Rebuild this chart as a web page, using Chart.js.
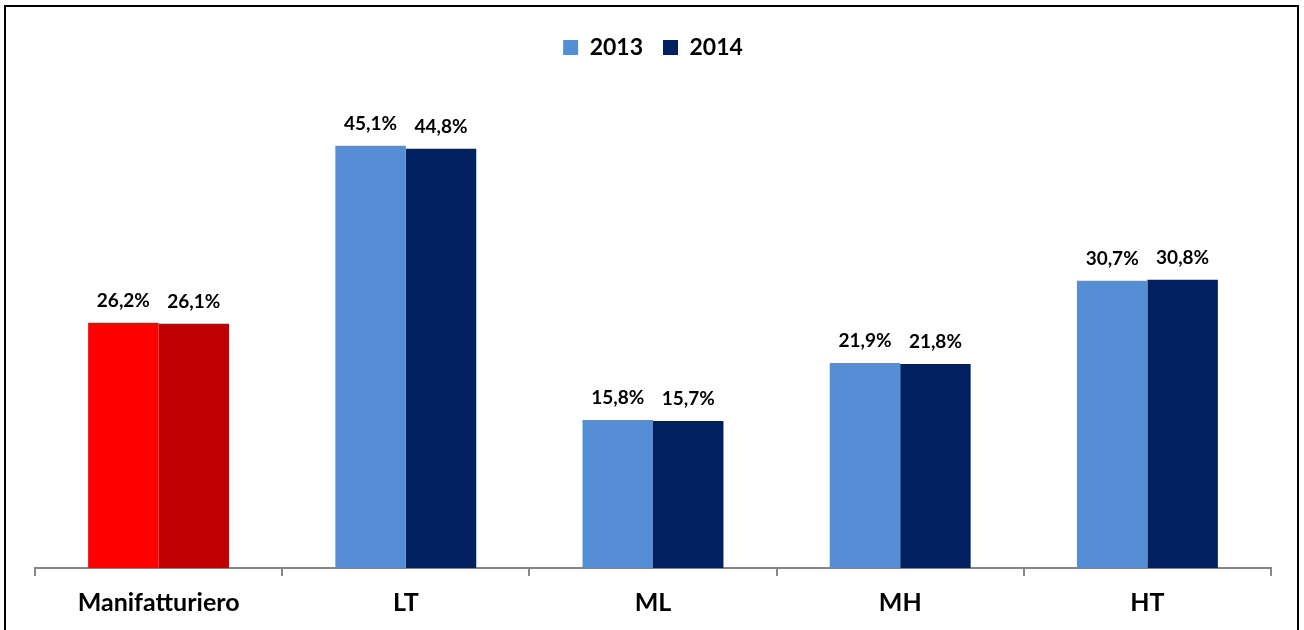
<!DOCTYPE html>
<html>
<head>
<meta charset="utf-8">
<script src="https://cdn.jsdelivr.net/npm/chart.js@4"></script>
<style>
  html, body { margin: 0; padding: 0; background: #fff; }
  #wrap { position: relative; width: 1304px; height: 630px; overflow: hidden; }
  #frame { position: absolute; left: 4px; top: 5px; width: 1295px; height: 640px; border: 2px solid #000; box-sizing: border-box; pointer-events: none; }
  canvas { position: absolute; left: 0; top: 0; }
</style>
</head>
<body>
<div id="wrap">
  <canvas id="chart" width="1304" height="630"></canvas>
  <div id="frame"></div>
</div>
<script>
// ---------- Data ----------
const categories = ["Manifatturiero", "LT", "ML", "MH", "HT"];
const years = ["2013", "2014"];
const values2013 = [26.2, 45.1, 15.8, 21.9, 30.7];
const values2014 = [26.1, 44.8, 15.7, 21.8, 30.8];

// ---------- Colors ----------
const COLOR_2013 = "#558ED5";
const COLOR_2014 = "#002060";
const COLOR_MANIF_2013 = "#FF0000";
const COLOR_MANIF_2014 = "#C00000";

const FONT = "Lato, 'Open Sans', sans-serif";

function colorsFor(base, first) {
  return categories.map((c, i) => (i === 0 ? first : base));
}

function formatPct(v) {
  return v.toFixed(1).replace(".", ",") + "%";
}

// draws the value labels above each bar
const valueLabels = {
  id: "valueLabels",
  afterDatasetsDraw(chart) {
    const ctx = chart.ctx;
    ctx.save();
    ctx.font = "bold 19px " + FONT;
    ctx.fillStyle = "#000";
    ctx.textAlign = "center";
    ctx.textBaseline = "middle";
    chart.data.datasets.forEach((ds, di) => {
      const meta = chart.getDatasetMeta(di);
      meta.data.forEach((bar, i) => {
        ctx.fillText(formatPct(ds.data[i]), bar.x, bar.y - 22);
      });
    });
    ctx.restore();
  }
};

// extra gap under the legend
const legendGap = {
  id: "legendGap",
  beforeInit(chart) {
    const fit = chart.legend.fit;
    chart.legend.fit = function () {
      fit.call(this);
      this.height += 31;
    };
  }
};

new Chart(document.getElementById("chart"), {
  type: "bar",
  data: {
    labels: categories,
    datasets: [
      { label: years[0], data: values2013, backgroundColor: colorsFor(COLOR_2013, COLOR_MANIF_2013) },
      { label: years[1], data: values2014, backgroundColor: colorsFor(COLOR_2014, COLOR_MANIF_2014) }
    ]
  },
  options: {
    responsive: false,
    animation: false,
    layout: { padding: { left: 35, right: 33, top: 16, bottom: 0 } },
    datasets: { bar: { categoryPercentage: 0.57, barPercentage: 1.0 } },
    plugins: {
      tooltip: { enabled: false },
      legend: {
        position: "top",
        labels: {
          font: { family: FONT, size: 23, weight: "bold" },
          color: "#000",
          boxWidth: 15,
          boxHeight: 15,
          padding: 20,
          generateLabels: () => [
            { text: years[0], fillStyle: COLOR_2013, strokeStyle: COLOR_2013, lineWidth: 0, datasetIndex: 0 },
            { text: years[1], fillStyle: COLOR_2014, strokeStyle: COLOR_2014, lineWidth: 0, datasetIndex: 1 }
          ]
        }
      }
    },
    scales: {
      x: {
        grid: { drawOnChartArea: false, drawTicks: true, tickLength: 8, color: "#868686", lineWidth: 2 },
        border: { color: "#868686", width: 2 },
        ticks: { font: { family: FONT, size: 25, weight: "bold" }, color: "#000", padding: 12 }
      },
      y: {
        display: false,
        min: 0,
        max: 50
      }
    }
  },
  plugins: [valueLabels, legendGap]
});
</script>
</body>
</html>
